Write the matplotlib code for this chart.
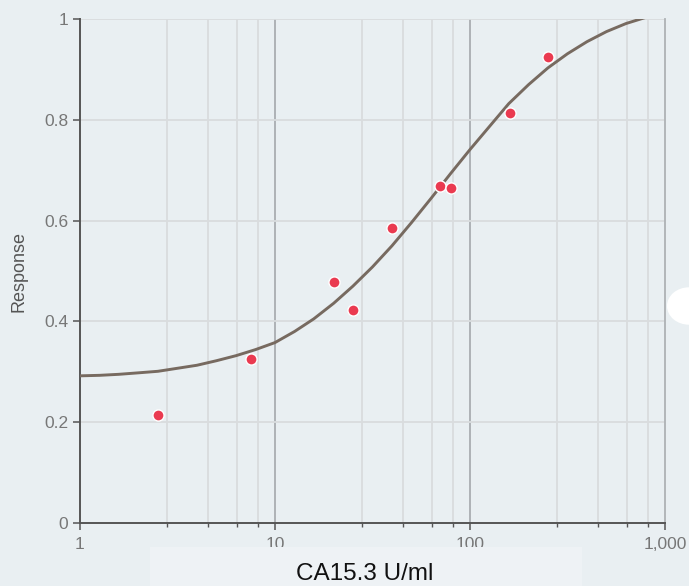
import matplotlib
matplotlib.use("Agg")
import matplotlib.pyplot as plt
from matplotlib.patches import Rectangle, Circle

# data
conc = [2.5, 7.5, 20, 25, 40, 70, 80, 160, 250]
resp = [0.214, 0.325, 0.478, 0.423, 0.585, 0.669, 0.665, 0.813, 0.925]

curve_x = [1, 1.26, 1.58, 2.0, 2.51, 3.16, 3.98, 5.01, 6.31, 7.94,
           10, 12.6, 15.8, 20, 25.1, 31.6, 39.8, 50.1, 63.1, 79.4,
           100, 126, 158, 200, 251, 316, 398, 501, 631, 794]
curve_y = [0.292, 0.293, 0.295, 0.298, 0.301, 0.307, 0.313, 0.322, 0.332, 0.344,
           0.358, 0.380, 0.405, 0.436, 0.470, 0.508, 0.550, 0.596, 0.644, 0.693,
           0.741, 0.787, 0.832, 0.870, 0.903, 0.931, 0.955, 0.975, 0.991, 1.003]

major_x = [1, 10, 100, 1000]
major_x_labels = ["1", "10", "100", "1,000"]
minor_factors = [2.78, 4.53, 6.38, 8.18]
y_ticks = [0, 0.2, 0.4, 0.6, 0.8, 1]
y_tick_labels = ["0", "0.2", "0.4", "0.6", "0.8", "1"]

BG = "#e9eff2"
W, H = 689, 586
fig = plt.figure(figsize=(W / 100, H / 100), dpi=100)
fig.patch.set_facecolor(BG)
ax = fig.add_axes([80 / W, 63 / H, 585 / W, 504 / H])
ax.set_facecolor(BG)
ax.set_xscale("log")
ax.set_xlim(1, 1000)
ax.set_ylim(0, 1)

minor_x = [d * f for d in [1, 10, 100] for f in minor_factors]
ax.set_xticks(major_x)
ax.set_xticklabels(major_x_labels)
ax.set_xticks(minor_x, minor=True)
ax.set_xticklabels([], minor=True)
ax.set_yticks(y_ticks)
ax.set_yticklabels(y_tick_labels)

for v in minor_x:
    ax.axvline(v, color="#d9dcde", lw=1.3, zorder=1)
for v in major_x[1:3]:
    ax.axvline(v, color="#a9adb1", lw=1.3, zorder=1)
for v in y_ticks[1:]:
    ax.axhline(v, color="#d9dcde", lw=1.3, zorder=1)

ax.spines["top"].set_visible(False)
ax.spines["right"].set_color("#aeb2b5")
ax.spines["right"].set_linewidth(1.3)
for s in ["left", "bottom"]:
    ax.spines[s].set_color("#555555")
    ax.spines[s].set_linewidth(1.4)

ax.tick_params(axis="both", which="major", length=5, width=1.1, color="#555555",
               labelcolor="#777777", labelsize=12.5, pad=3.5)
ax.tick_params(axis="x", which="minor", length=3, width=1.0, color="#555555")
ax.tick_params(axis="x", which="major", pad=5)
for lab in ax.get_xticklabels() + ax.get_yticklabels():
    lab.set_fontfamily("Liberation Sans")

ax.plot(curve_x, curve_y, color="#776a60", lw=2.1, zorder=3, solid_capstyle="round",
        solid_joinstyle="round")
ax.scatter(conc, resp, s=64, color="#ea3a50", edgecolors="white", linewidths=1.0, zorder=4)

ax.set_ylabel("Response", fontsize=13, color="#555555", family="Liberation Sans")
ax.yaxis.set_label_coords(-52 / 585, 0.5)

# lighter overlay band and axis title
fig.patches.append(Rectangle((150 / W, 0), 432 / W, 39 / H, transform=fig.transFigure,
                             facecolor="#eef2f5", edgecolor="none", zorder=10))
fig.patches.append(Circle((689 / W, (H - 306) / H), 22 / W, transform=fig.transFigure,
                          facecolor="white", edgecolor="none", zorder=10))
fig.text(365 / W, (H - 574) / H, "CA15.3 U/ml", fontsize=17.5, color="#111111",
         family="Liberation Sans", ha="center", va="center", zorder=11)

fig.savefig("out.png", dpi=100, facecolor=BG)
